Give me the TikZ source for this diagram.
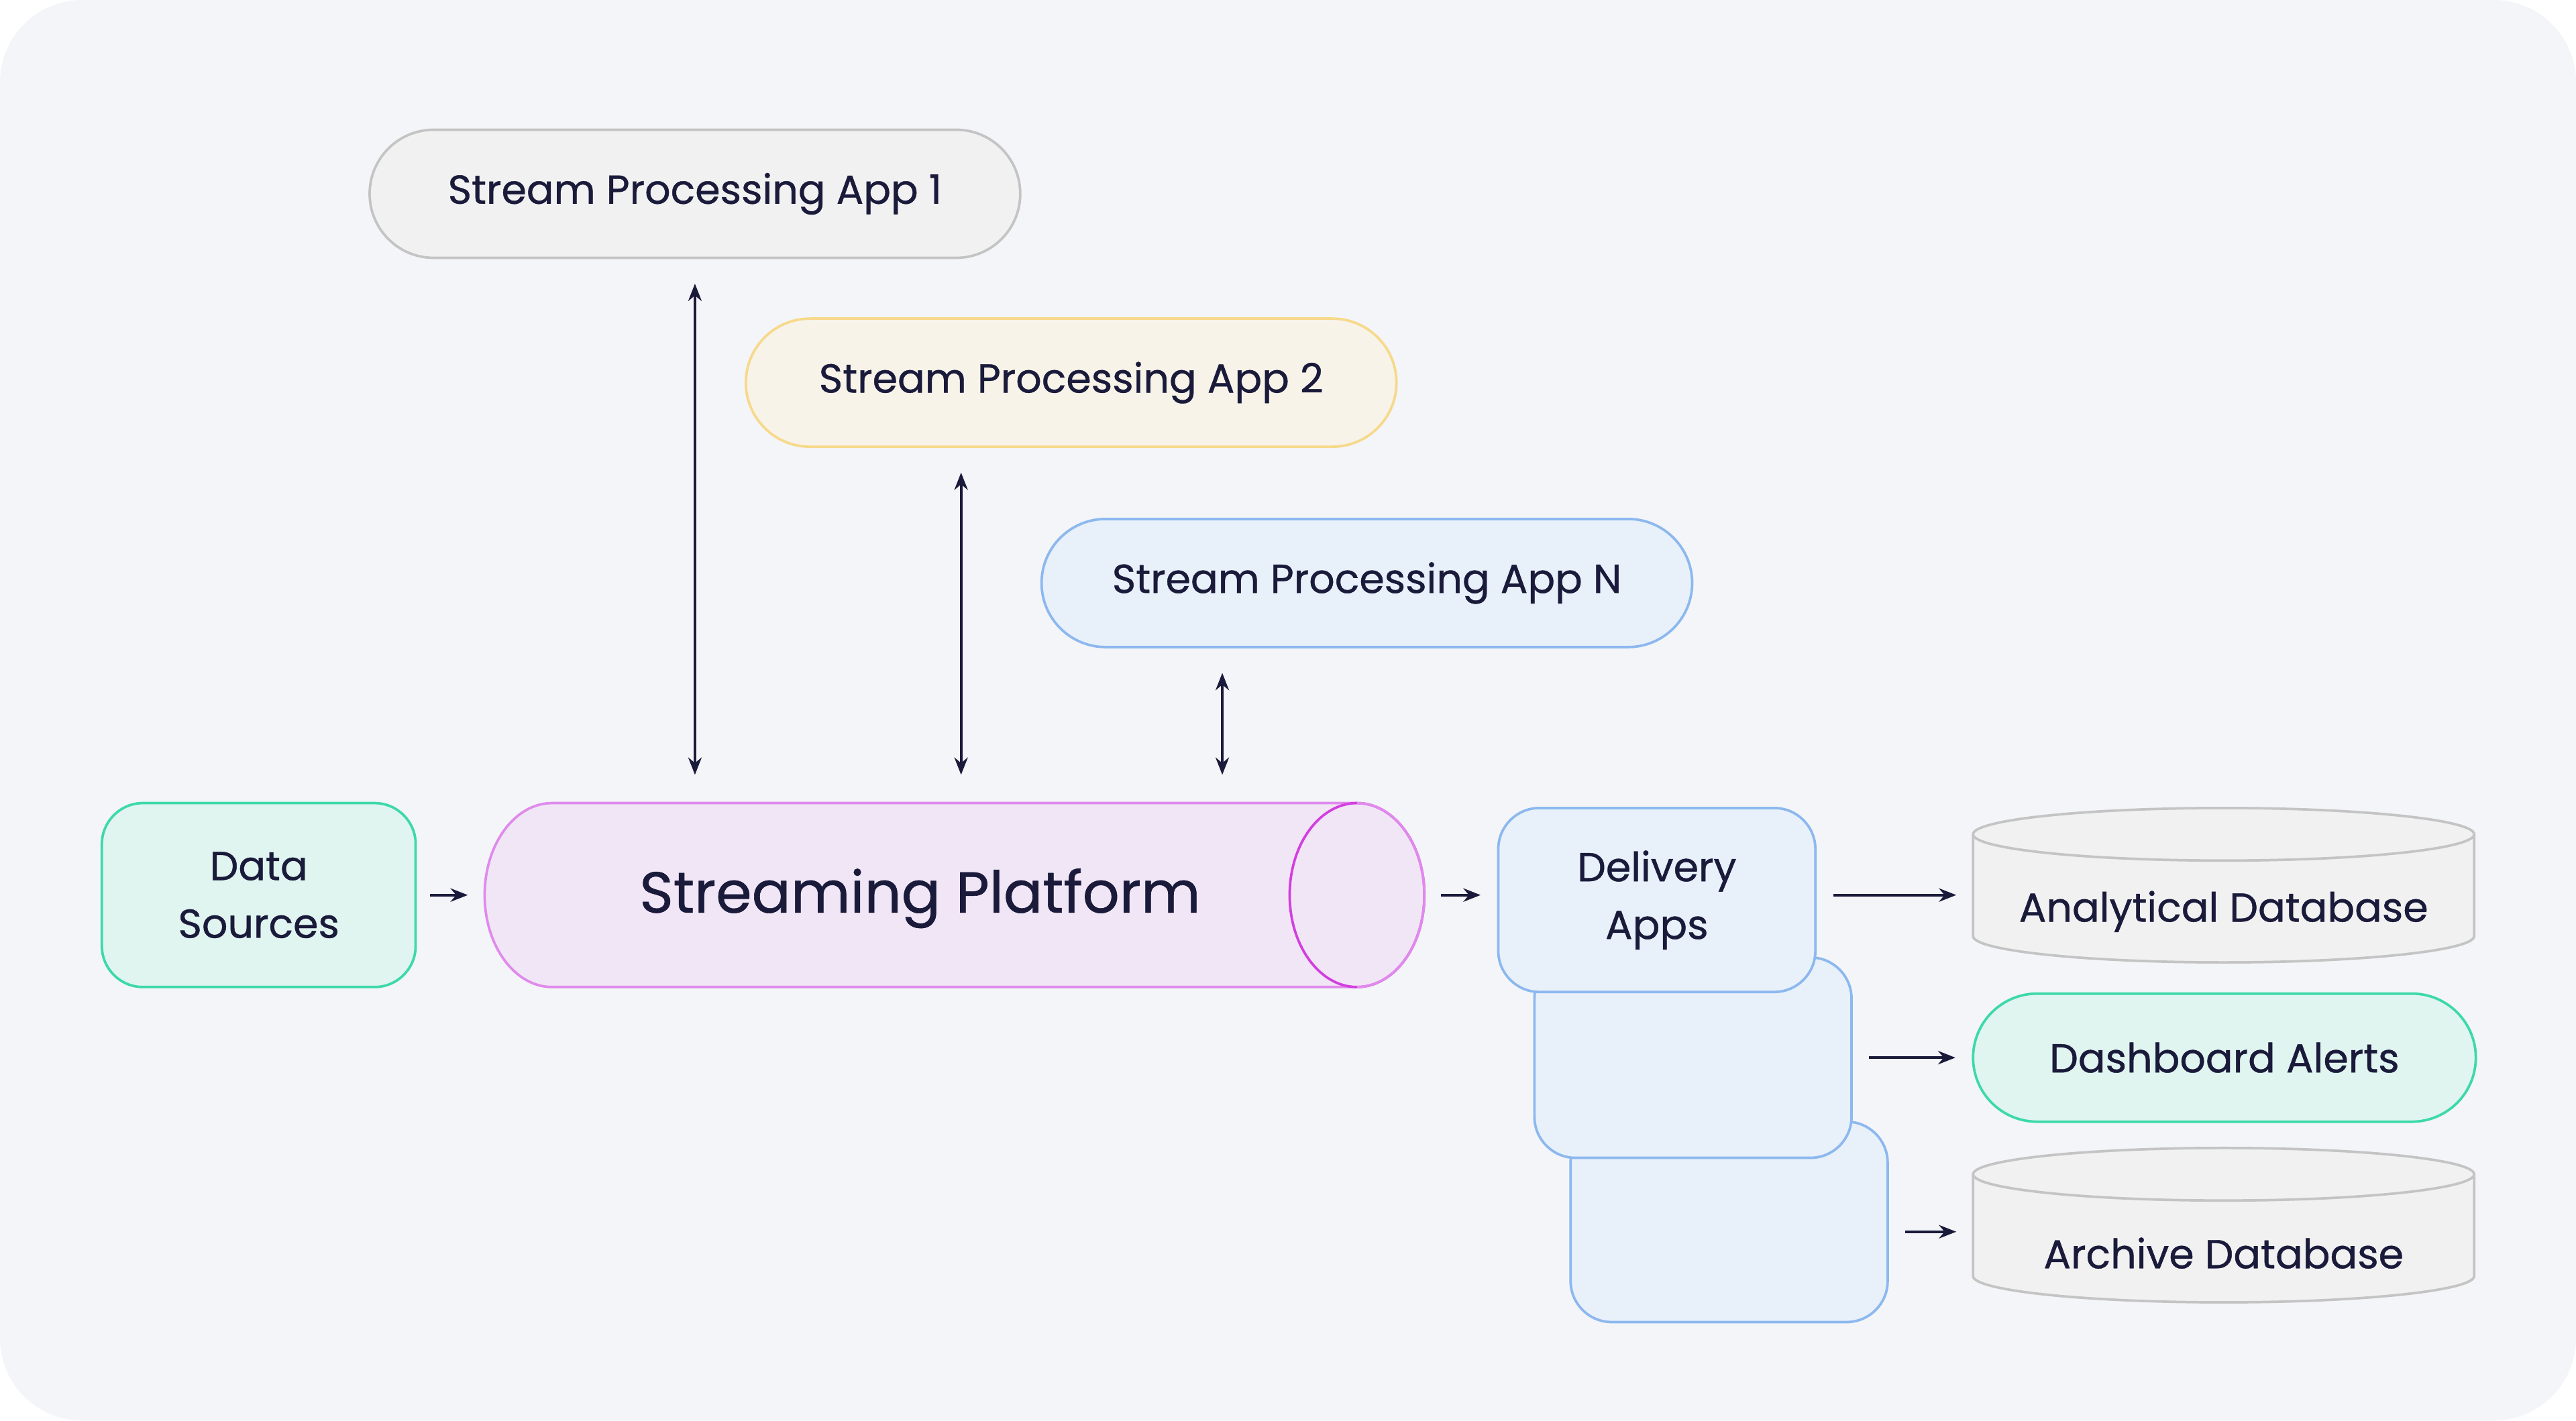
\documentclass[tikz,border=0pt]{standalone}
\usepackage{fontspec}
\setmainfont{Poppins}[FakeBold=0.7]
\usetikzlibrary{arrows.meta,positioning}
\definecolor{bgcol}{HTML}{F4F5F9}
\definecolor{ink}{HTML}{1A1A3A}
\definecolor{grayfill}{HTML}{F1F1F2}
\definecolor{grayline}{HTML}{C4C4C4}
\definecolor{yelfill}{HTML}{F8F3E9}
\definecolor{yelline}{HTML}{F6D98A}
\definecolor{bluefill}{HTML}{E8F0FA}
\definecolor{blueline}{HTML}{8CB8EE}
\definecolor{grnfill}{HTML}{E0F4F0}
\definecolor{grnline}{HTML}{3DD9A8}
\definecolor{pinkfill}{HTML}{F1E6F6}
\definecolor{pinkline}{HTML}{E08AEC}
\definecolor{pinkdark}{HTML}{D23FE0}
\tikzset{
    app/.style={draw, line width=1.3pt, rounded corners=1.17cm, minimum width=11.88cm,
        minimum height=2.34cm, text=ink, font=\fontsize{21}{25}\selectfont},
    box/.style={draw=blueline, fill=bluefill, line width=1.3pt, rounded corners=0.75cm,
        minimum width=5.79cm, text=ink, align=center, font=\fontsize{21}{30}\selectfont},
    dbase/.style={draw=grayline, fill=grayfill, line width=1.3pt},
    link/.style={draw=ink, line width=1.3pt, -{Stealth[length=9pt,width=7pt]},
        shorten <=0.3cm, shorten >=0.3cm},
    dlink/.style={draw=ink, line width=1.3pt, {Stealth[length=9pt,width=7pt]}-{Stealth[length=9pt,width=7pt]},
        shorten <=0.45cm, shorten >=0.51cm},
}
\begin{document}
\begin{tikzpicture}[x=0.03cm, y=-0.03cm]
	\fill[bgcol, rounded corners=1.5cm] (0,0) rectangle (1568,865);
	\useasboundingbox (0,0) rectangle (1568,865);
	% processing apps
	\node[app, draw=grayline, fill=grayfill] (app1) at (423,118) {Stream Processing App 1};
	\node[app, draw=yelline, fill=yelfill] (app2) at (652,233) {Stream Processing App 2};
	\node[app, draw=blueline, fill=bluefill] (appn) at (832,355) {Stream Processing App N};
	% sources
	\node[box, draw=grnline, fill=grnfill, minimum width=5.73cm, minimum height=3.36cm] (src) at (157.5,545) {Data\\Sources};
	% platform
	\filldraw[fill=pinkfill, draw=pinkline, line width=1.3pt]
		(826,489) -- (336,489) arc[start angle=270, end angle=90, x radius=41, y radius=56]
		-- (826,601);
	\filldraw[fill=pinkfill, draw=pinkdark, line width=1.3pt] (826,545) ellipse[x radius=41, y radius=56];
	\draw[pinkline, line width=1.3pt] (826,489) arc[start angle=270, end angle=450, x radius=41, y radius=56];
	\node[minimum width=17.16cm, minimum height=3.36cm] (plat) at (581,545) {};
	\node[text=ink, font=\fontsize{30}{36}\selectfont] (platlbl) at (560,547) {Streaming Platform};
	% delivery apps
	\node[box, minimum height=3.66cm] (del3) at (1052.5,744) {};
	\node[box, minimum height=3.66cm] (del2) at (1030.5,644) {};
	\node[box, minimum height=3.36cm] (del1) at (1008.5,548) {Delivery\\Apps};
	% sinks
	\filldraw[dbase] (1201,508) -- (1201,570) arc[start angle=180, end angle=0, x radius=152.5, y radius=16]
		-- (1506,508);
	\filldraw[dbase] (1353.5,508) ellipse[x radius=152.5, y radius=16];
	\node[minimum width=9.15cm, minimum height=2.4cm] (adb) at (1353.5,545) {};
	\node[text=ink, font=\fontsize{21}{25}\selectfont] at (1353.5,555) {Analytical Database};
	\node[app, draw=grnline, fill=grnfill, minimum width=9.18cm] (dash) at (1354,644) {Dashboard Alerts};
	\filldraw[dbase] (1201,715) -- (1201,777) arc[start angle=180, end angle=0, x radius=152.5, y radius=16]
		-- (1506,715);
	\filldraw[dbase] (1353.5,715) ellipse[x radius=152.5, y radius=16];
	\node[minimum width=9.15cm, minimum height=2.4cm] (arc) at (1353.5,750) {};
	\node[text=ink, font=\fontsize{21}{25}\selectfont] at (1353.5,763) {Archive Database};
	% connectors
	\coordinate (p1) at (423,0);
	\coordinate (p2) at (585,0);
	\coordinate (p3) at (744,0);
	\draw[dlink] (app1.south -| p1) -- (plat.north -| p1);
	\draw[dlink] (app2.south -| p2) -- (plat.north -| p2);
	\draw[dlink] (appn.south -| p3) -- (plat.north -| p3);
	\draw[link, shorten <=0.24cm] (src) -- (plat);
	\draw[link] (plat.east) -- (plat.east -| del1.west);
	\draw[link] (del1.east |- adb) -- (adb.west);
	\draw[link] (del2.east |- dash) -- (dash.west);
	\draw[link] (del3.east |- arc) -- (arc.west);
\end{tikzpicture}
\end{document}
